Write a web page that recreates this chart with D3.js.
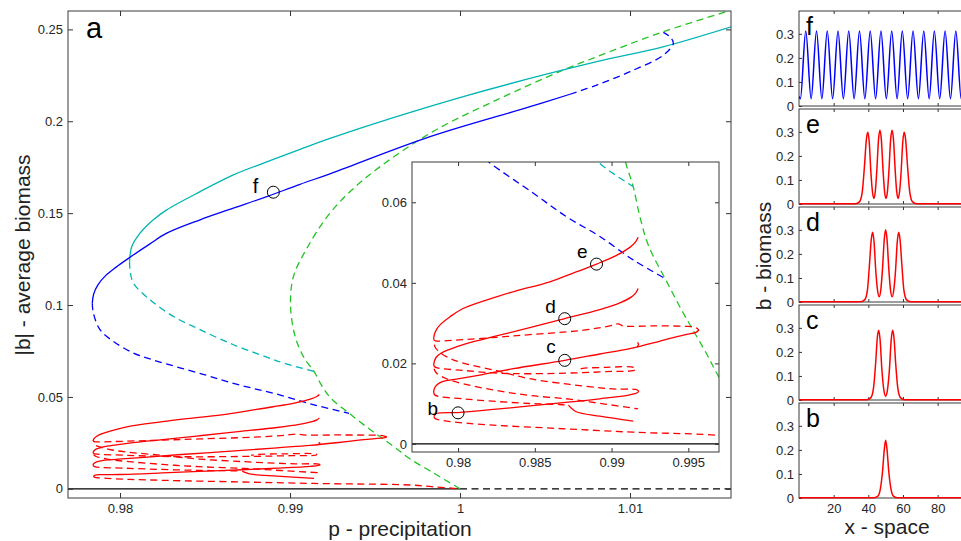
<!DOCTYPE html>
<html lang="en">
<head>
<meta charset="utf-8">
<title>Snaking bifurcation diagram</title>
<style>
  body { margin:0; background:#fff; }
  text { font-family:"Liberation Sans", Arial, Helvetica, sans-serif; }
</style>
</head>
<body>
<svg id="chart" width="961" height="541"></svg>
<script src="https://cdnjs.cloudflare.com/ajax/libs/d3/7.8.5/d3.min.js"></script>
<script>
// ---- data: [p, |b|] ----
var mainXTicks = [0.98, 0.99, 1, 1.01];
var mainYTicks = [0, 0.05, 0.1, 0.15, 0.2, 0.25];
var insetXTicks = [0.98, 0.985, 0.99, 0.995];
var insetYTicks = [0, 0.02, 0.04, 0.06];
var panelXTicks = [20, 40, 60, 80];
var panelYTicks = [0, 0.1, 0.2, 0.3];

var trivialStable = [[0.97, 0], [1, 0]];
var trivialUnstable = [[1, 0], [1.02, 0]];

var cyanStable = [[0.98056,0.1236],[0.98069,0.1318],[0.98118,0.1391],[0.98196,0.1464],[0.98275,0.1518],
  [0.98471,0.1617],[0.98667,0.1708],[0.98863,0.1779],[0.99059,0.1847],[0.99235,0.1907],
  [1.00019,0.2134],[1.00804,0.2324],[1.01194,0.2405],[1.0165,0.2530]];
var cyanUnstable = [[0.98056,0.1236],[0.98059,0.1191],[0.98078,0.1120],[0.98176,0.1029],[0.98314,0.0938],
  [0.98471,0.0866],[0.98667,0.0784],[0.98863,0.0717],[0.98960,0.0685],[0.99140,0.0639]];

var blueStable = [[0.97837,0.1010],[0.97845,0.1060],[0.97870,0.1110],[0.97915,0.1160],[0.97975,0.1205],
  [0.98059,0.1260],[0.98176,0.1333],[0.98275,0.1391],[0.98471,0.1464],[0.98667,0.1527],[0.98863,0.1590],
  [0.99059,0.1657],[0.99235,0.1714],[0.99824,0.1916],[1.00412,0.2079],[1.00647,0.2147]];
var blueUnstableTop = [[1.00647,0.2147],[1.00804,0.2197],[1.01,0.2270],[1.01196,0.2360],
  [1.01255,0.2424],[1.01235,0.2460],[1.01196,0.2484]];
var blueUnstableLow = [[0.97837,0.1010],[0.97843,0.0957],[0.97882,0.0866],[0.97961,0.0802],[0.98078,0.0739],
  [0.98196,0.0701],[0.98489,0.0623],[0.98707,0.0564],[0.98924,0.0515],[0.99141,0.0457],[0.99347,0.0411]];

var greenUnstable = [[1,0],[0.99843,0.0087],[0.997,0.0166],[0.99619,0.0224],[0.99532,0.0282],[0.99467,0.0325],
  [0.99359,0.0403],[0.99239,0.0494],[0.99185,0.0564],[0.99141,0.0639],[0.99087,0.0706],[0.99030,0.0829],
  [0.99003,0.1003],[0.99020,0.1155],[0.99094,0.1300],[0.99235,0.15],[0.99431,0.1681],[0.99824,0.1935],
  [1.00216,0.2116],[1.00608,0.2279],[1.00804,0.2351],[1.01196,0.2487],[1.01650,0.2620]];

// localized states (red): solid = stable, dashed = unstable
var redSolidB = [[0.97844,0.00689],[0.97854,0.00747],[0.97891,0.00772],[0.98,0.00780],[0.98250,0.00863],
  [0.98467,0.00946],[0.98717,0.01038],[0.98924,0.01121],[0.99119,0.01220],[0.99167,0.01270],[0.99178,0.01311]];
var redSolidC = [[0.97841,0.01287],[0.97846,0.01378],[0.97863,0.01469],[0.97902,0.01552],[0.97989,0.01610],
  [0.98141,0.01710],[0.98359,0.01868],[0.98695,0.02075],[0.98924,0.02233],[0.99119,0.02366],
  [0.99271,0.02507],[0.99380,0.02623],[0.99489,0.02722],[0.99550,0.02772],[0.99569,0.02830]];
var redSolidSpur = [[0.99167,0.02407],[0.99176,0.02473],[0.99169,0.02523]];
var redSolidD = [[0.97841,0.01951],[0.97846,0.02058],[0.97859,0.02158],[0.97891,0.02258],[0.97946,0.02349],
  [0.98054,0.02490],[0.98250,0.02681],[0.98467,0.02888],[0.98695,0.03113],[0.98924,0.03337],
  [0.99054,0.03503],[0.99130,0.03652],[0.99158,0.03752],[0.99173,0.03860]];
var redSolidE = [[0.97841,0.02590],[0.97846,0.02722],[0.97863,0.02864],[0.97891,0.02988],[0.97946,0.03154],
  [0.98033,0.03362],[0.98250,0.03652],[0.98380,0.03801],[0.98598,0.04026],[0.98761,0.04258],
  [0.98902,0.04465],[0.99032,0.04681],[0.99119,0.04880],[0.99158,0.05022],[0.99173,0.05129]];
var redSolidHook = [[0.98719,0.00963],[0.98735,0.00900],[0.98770,0.00800],
  [0.98924,0.00689],[0.99141,0.00564]];

var redDashBottom = [[0.97844,0.00689],[0.97848,0.00639],[0.97902,0.00581],[0.98054,0.00515],[0.98272,0.00457],
  [0.98706,0.00374],[0.99141,0.00291],[0.99706,0.00208],[0.99841,0.0011],[1,0]];
var redDashTop = [[0.97841,0.02590],[0.97854,0.02556],[0.97902,0.02556],[0.98033,0.02590],[0.98250,0.02648],
  [0.98467,0.02714],[0.98793,0.02814],[0.98989,0.02930],[0.99043,0.02980],[0.99076,0.02930],
  [0.99271,0.02930],[0.99467,0.02922],[0.99543,0.02897],[0.99569,0.02830]];
var redDashMid = [[0.97841,0.01951],[0.97854,0.01901],[0.98033,0.01826],[0.98250,0.01760],[0.98467,0.01743],
  [0.98793,0.01768],[0.99010,0.01801],[0.99141,0.01818],[0.99158,0.01851],[0.99145,0.01901],
  [0.98967,0.01901],[0.98804,0.01868],[0.98771,0.01818]];
var redDashRung1 = [[0.99178,0.01311],[0.99158,0.01353],[0.99032,0.01361],[0.98924,0.01394],[0.98728,0.01477],
  [0.98467,0.01619],[0.98250,0.01818],[0.98033,0.02009],[0.97946,0.02125],[0.97876,0.02291],
  [0.97850,0.02407],[0.97846,0.02473]];
var redDashRung2 = [[0.97844,0.01868],[0.97859,0.01760],[0.97924,0.01619],[0.98033,0.01494],[0.98250,0.01328],
  [0.98467,0.01204],[0.98728,0.01112],[0.98945,0.00996],[0.99173,0.00872]];
var redDashRung3 = [[0.97841,0.01287],[0.97850,0.01212],[0.98033,0.01121],[0.98250,0.01054],
  [0.98467,0.01004],[0.98663,0.00979],[0.98719,0.00963]];

var markerNames = ['b', 'c', 'd', 'e'];
var markerP = [0.98, 0.98695, 0.98695, 0.98902];
var markerB = [0.00772, 0.02075, 0.0311, 0.04465];
var markerF = [0.98902, 0.1614];

// spatial profiles b(x)
var profileF = [[0,0.04],[0.8,0.03],[3.9,0.312],[7.0,0.03],[10.1,0.312],[13.2,0.03],[16.3,0.312],[19.4,0.03],
  [22.5,0.312],[25.6,0.03],[28.7,0.312],[31.8,0.03],[34.9,0.312],[38.0,0.03],[41.1,0.312],[44.2,0.03],
  [47.3,0.312],[50.4,0.03],[53.5,0.312],[56.6,0.03],[59.6,0.312],[62.7,0.03],[65.8,0.312],[68.9,0.03],
  [72.0,0.312],[75.1,0.03],[78.1,0.312],[81.2,0.03],[84.3,0.312],[87.4,0.03],[90.5,0.312],[93.6,0.03],
  [96.7,0.312],[99.8,0.03]];
var profileE = [[0,0.001],[32.5,0.001],[35,0.01],[36.5,0.05],[37.8,0.16],[38.9,0.27],[39.7,0.298],[40.5,0.26],
  [41.5,0.13],[42.4,0.05],[43.2,0.023],[44,0.05],[44.9,0.14],[45.9,0.27],[46.7,0.307],[47.5,0.27],
  [48.5,0.14],[49.4,0.05],[50.2,0.023],[51,0.05],[51.9,0.14],[52.9,0.27],[53.7,0.307],[54.5,0.27],
  [55.5,0.14],[56.4,0.05],[57.2,0.023],[58,0.05],[58.9,0.13],[59.9,0.26],[60.7,0.298],[61.5,0.27],
  [62.6,0.16],[63.9,0.05],[65.4,0.01],[68,0.001],[100,0.001]];
var profileD = [[0,0.001],[35.5,0.001],[38,0.01],[39.5,0.05],[40.7,0.16],[41.7,0.26],[42.5,0.29],[43.3,0.25],
  [44.3,0.13],[45.3,0.05],[46.25,0.022],[47.2,0.05],[48.2,0.14],[49.2,0.26],[50,0.30],[50.8,0.26],
  [51.8,0.14],[52.8,0.05],[53.75,0.022],[54.7,0.05],[55.7,0.13],[56.7,0.25],[57.5,0.29],[58.3,0.26],
  [59.3,0.16],[60.5,0.05],[62,0.01],[64.5,0.001],[100,0.001]];
var profileC = [[0,0.001],[39,0.001],[41.5,0.01],[43,0.05],[44.2,0.15],[45.2,0.26],[46,0.29],[46.8,0.25],
  [47.8,0.13],[49,0.04],[50,0.016],[51,0.04],[52.2,0.13],[53.2,0.25],[54,0.29],[54.8,0.26],[55.8,0.15],
  [57,0.05],[58.5,0.01],[61,0.001],[100,0.001]];
var profileB = [[0,0.001],[43,0.001],[45.5,0.008],[47,0.04],[48.2,0.11],[49.2,0.2],[50,0.24],[50.8,0.2],
  [51.8,0.11],[53,0.04],[54.5,0.008],[57,0.001],[100,0.001]];

var panelNames = ['f', 'e', 'd', 'c', 'b'];
var panelProfiles = [profileF, profileE, profileD, profileC, profileB];

// ---- drawing ----
var svg = d3.select('#chart');
var fmt = d3.format('~g');
var RED = '#ff0000', BLUE = '#0000ff', CYAN = '#00b4b4', GREEN = '#22c422';
var DASH = '7,4.5';

var defs = svg.append('defs');
function clip(id, x0, y0, w, h) {
  defs.append('clipPath').attr('id', id).append('rect')
    .attr('x', x0).attr('y', y0).attr('width', w).attr('height', h);
  return 'url(#' + id + ')';
}

// axes with inward ticks on all four sides
function box(g, x, y, xt, yt, tick, labelX, labelY) {
  var x0 = x.range()[0], x1 = x.range()[1], y0 = y.range()[0], y1 = y.range()[1];
  g.append('g').attr('transform', 'translate(0,' + y0 + ')')
    .call(d3.axisBottom(x).tickValues(xt).tickSizeInner(-tick).tickSizeOuter(0).tickPadding(6)
      .tickFormat(labelX ? fmt : ''));
  g.append('g').attr('transform', 'translate(0,' + y1 + ')')
    .call(d3.axisTop(x).tickValues(xt).tickSizeInner(-tick).tickSizeOuter(0).tickFormat(''));
  g.append('g').attr('transform', 'translate(' + x0 + ',0)')
    .call(d3.axisLeft(y).tickValues(yt).tickSizeInner(-tick).tickSizeOuter(0).tickPadding(5)
      .tickFormat(labelY ? fmt : ''));
  g.append('g').attr('transform', 'translate(' + x1 + ',0)')
    .call(d3.axisRight(y).tickValues(yt).tickSizeInner(-tick).tickSizeOuter(0).tickFormat(''));
  g.selectAll('.domain').remove();
  g.selectAll('.tick line').attr('stroke', '#333');
  g.selectAll('.tick text').attr('font-size', 13).attr('fill', '#262626')
    .attr('font-family', '"Liberation Sans", Arial, sans-serif');
  g.append('rect').attr('x', x0).attr('y', y1).attr('width', x1 - x0).attr('height', y0 - y1)
    .attr('fill', 'none').attr('stroke', '#3a3a3a').attr('stroke-width', 1);
}

function curves(g, x, y) {
  var line = d3.line().x(function(d){ return x(d[0]); }).y(function(d){ return y(d[1]); })
    .curve(d3.curveCatmullRom.alpha(0.5));
  function draw(data, color, dashed, w) {
    g.append('path').datum(data).attr('d', line).attr('fill', 'none')
      .attr('stroke', color).attr('stroke-width', w || 1.3)
      .attr('stroke-dasharray', dashed ? DASH : null);
  }
  draw(trivialStable, '#000', false, 1.2);
  draw(trivialUnstable, '#000', true, 1.2);
  draw(greenUnstable, GREEN, true);
  draw(cyanStable, CYAN, false);
  draw(cyanUnstable, CYAN, true);
  draw(blueStable, BLUE, false);
  draw(blueUnstableTop, BLUE, true);
  draw(blueUnstableLow, BLUE, true);
  [redDashBottom, redDashTop, redDashMid, redDashRung1, redDashRung2, redDashRung3]
    .forEach(function(d){ draw(d, RED, true); });
  [redSolidB, redSolidC, redSolidSpur, redSolidD, redSolidE, redSolidHook]
    .forEach(function(d){ draw(d, RED, false); });
}

// main panel (a)
var mx = d3.scaleLinear().domain([0.97694, 1.01594]).range([68, 731]);
var my = d3.scaleLinear().domain([-0.005, 0.26]).range([498, 11]);
var main = svg.append('g');
var mainPlot = main.append('g').attr('clip-path', clip('clipMain', 68, 11, 663, 487));
curves(mainPlot, mx, my);
mainPlot.append('circle').attr('cx', mx(markerF[0])).attr('cy', my(markerF[1])).attr('r', 6)
  .attr('fill', 'none').attr('stroke', '#000');
main.append('text').attr('x', mx(markerF[0]) - 15).attr('y', my(markerF[1]) + 1)
  .attr('text-anchor', 'end').attr('font-size', 20).text('f');
box(main, mx, my, mainXTicks, mainYTicks, 5, true, true);
main.append('text').attr('x', 86).attr('y', 38).attr('font-size', 29).text('a');
main.append('text').attr('x', 400).attr('y', 536).attr('text-anchor', 'middle')
  .attr('font-size', 21).attr('fill', '#222').text('p - precipitation');
main.append('text').attr('transform', 'translate(30,255) rotate(-90)').attr('text-anchor', 'middle')
  .attr('font-size', 21).attr('fill', '#222').text('|b| - average biomass');

// inset
var ix = d3.scaleLinear().domain([0.977, 0.997]).range([412, 719]);
var iy = d3.scaleLinear().domain([-0.002, 0.07]).range([452, 162]);
var inset = svg.append('g');
inset.append('rect').attr('x', 412).attr('y', 162).attr('width', 307).attr('height', 290).attr('fill', '#fff');
var insetPlot = inset.append('g').attr('clip-path', clip('clipInset', 412, 162, 307, 290));
curves(insetPlot, ix, iy);
var lblDx = [-20, -9, -9, -9], lblDy = [2, -7, -6, -6];
markerNames.forEach(function(n, i) {
  var cx = ix(markerP[i]), cy = iy(markerB[i]);
  insetPlot.append('circle').attr('cx', cx).attr('cy', cy).attr('r', 6)
    .attr('fill', 'none').attr('stroke', '#000');
  inset.append('text').attr('x', cx + lblDx[i]).attr('y', cy + lblDy[i])
    .attr('text-anchor', 'end').attr('font-size', 19).text(n);
});
box(inset, ix, iy, insetXTicks, insetYTicks, 4, true, true);

// right-hand spatial profiles
var px = d3.scaleLinear().domain([0, 100]).range([799, 972.3]);
var panelTop = [11, 109, 207, 305, 403], panelH = 96;
panelNames.forEach(function(n, i) {
  var top = panelTop[i], bottom = top + panelH;
  var py = d3.scaleLinear().domain([0, 0.395]).range([bottom - 1, top]);
  var g = svg.append('g');
  var line = d3.line().x(function(d){ return px(d[0]); }).y(function(d){ return py(d[1]); })
    .curve(d3.curveMonotoneX);
  box(g, px, py, panelXTicks, panelYTicks, 3, i === panelNames.length - 1, true);
  g.append('g').attr('clip-path', clip('clipP' + i, 799, top, 174, panelH + 1))
    .append('path').datum(panelProfiles[i]).attr('d', line).attr('fill', 'none')
    .attr('stroke', i === 0 ? BLUE : RED).attr('stroke-width', 1.5);
  g.append('text').attr('x', 806).attr('y', top + 24).attr('font-size', 25).text(n);
});
svg.append('text').attr('x', 887).attr('y', 534).attr('text-anchor', 'middle')
  .attr('font-size', 21).attr('fill', '#222').text('x - space');
svg.append('text').attr('transform', 'translate(771,256) rotate(-90)').attr('text-anchor', 'middle')
  .attr('font-size', 21).attr('fill', '#222').text('b - biomass');
</script>
</body>
</html>
